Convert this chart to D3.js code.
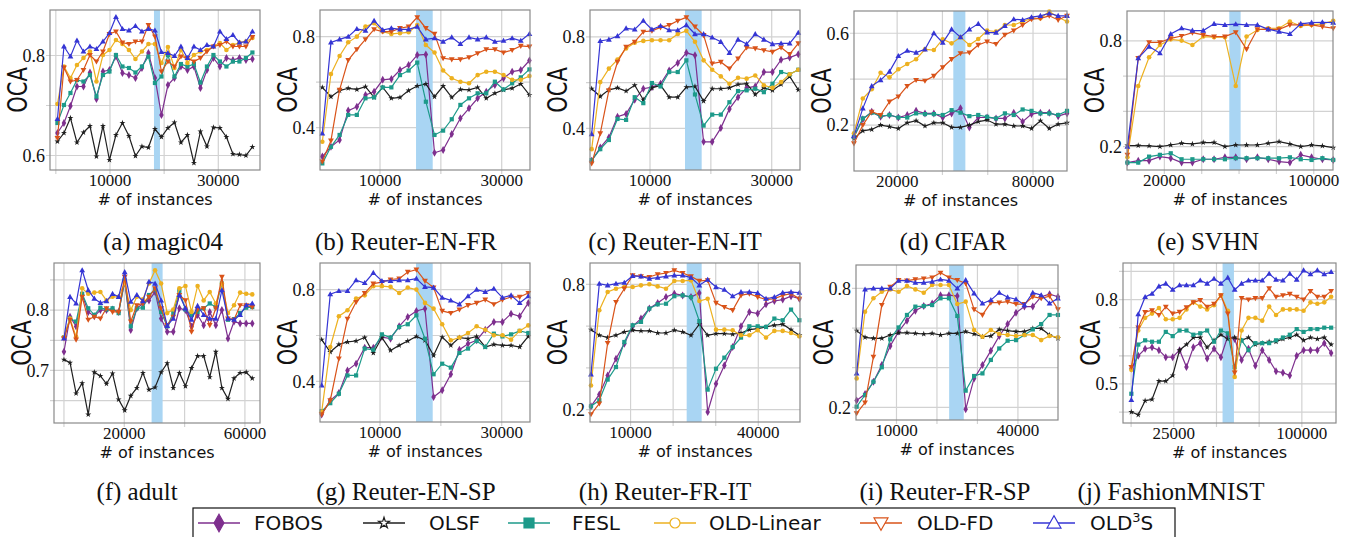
<!DOCTYPE html>
<html>
<head>
<meta charset="utf-8">
<script src="https://cdn.jsdelivr.net/npm/d3@7"></script>
<style>
  body { margin: 0; background: #fff; }
  svg { display: block; }
</style>
</head>
<body>
<div id="chart"></div>
<script>
// series order in every dataset: FOBOS, OLSF, FESL, OLD-Linear, OLD-FD, OLD3S
var methods = ['FOBOS', 'OLSF', 'FESL', 'OLD-Linear', 'OLD-FD', 'OLD3S'];

var magic04 = [
  [0.645,0.665,0.699,0.738,0.738,0.766,0.713,0.768,0.771,0.798,0.765,0.761,0.755,0.775,0.805,0.755,0.681,0.741,0.755,0.778,0.771,0.778,0.735,0.771,0.795,0.778,0.795,0.791,0.795,0.791,0.793],
  [0.628,0.645,0.675,0.626,0.646,0.659,0.598,0.659,0.591,0.641,0.665,0.639,0.599,0.618,0.616,0.653,0.637,0.655,0.666,0.626,0.641,0.585,0.648,0.618,0.656,0.655,0.637,0.603,0.602,0.600,0.617],
  [0.665,0.701,0.725,0.751,0.748,0.761,0.718,0.761,0.768,0.801,0.778,0.775,0.766,0.778,0.798,0.745,0.758,0.801,0.758,0.783,0.778,0.783,0.746,0.778,0.801,0.788,0.778,0.788,0.788,0.795,0.806],
  [0.703,0.778,0.755,0.781,0.795,0.808,0.748,0.801,0.811,0.831,0.823,0.811,0.793,0.808,0.823,0.823,0.785,0.817,0.775,0.811,0.785,0.801,0.808,0.811,0.818,0.825,0.811,0.821,0.826,0.828,0.835],
  [0.635,0.776,0.748,0.751,0.771,0.801,0.788,0.808,0.843,0.848,0.826,0.823,0.828,0.828,0.861,0.838,0.768,0.788,0.778,0.798,0.795,0.788,0.795,0.808,0.818,0.821,0.828,0.818,0.818,0.818,0.837],
  [0.673,0.818,0.798,0.830,0.808,0.818,0.813,0.828,0.845,0.877,0.853,0.850,0.859,0.848,0.853,0.850,0.807,0.805,0.799,0.818,0.795,0.818,0.811,0.821,0.818,0.848,0.833,0.841,0.826,0.828,0.848]
];

var reuterENFR = [
  [0.273,0.316,0.346,0.475,0.492,0.544,0.558,0.610,0.614,0.653,0.675,0.719,0.722,0.290,0.302,0.372,0.441,0.485,0.529,0.558,0.588,0.617,0.646,0.653,0.695],
  [0.577,0.536,0.563,0.573,0.568,0.580,0.533,0.577,0.529,0.533,0.563,0.583,0.592,0.536,0.583,0.533,0.568,0.566,0.577,0.529,0.551,0.566,0.573,0.592,0.544],
  [0.243,0.316,0.368,0.456,0.456,0.529,0.533,0.577,0.577,0.631,0.651,0.686,0.514,0.368,0.387,0.437,0.500,0.529,0.551,0.551,0.602,0.568,0.595,0.621,0.656],
  [0.338,0.636,0.715,0.775,0.800,0.844,0.859,0.822,0.812,0.815,0.819,0.851,0.763,0.730,0.651,0.617,0.602,0.595,0.631,0.646,0.646,0.631,0.610,0.610,0.627],
  [0.251,0.343,0.566,0.697,0.744,0.788,0.832,0.822,0.822,0.837,0.844,0.885,0.837,0.812,0.705,0.700,0.700,0.709,0.727,0.744,0.744,0.730,0.741,0.759,0.756],
  [0.375,0.775,0.788,0.800,0.834,0.826,0.870,0.829,0.837,0.832,0.832,0.844,0.788,0.793,0.778,0.797,0.768,0.797,0.788,0.797,0.778,0.782,0.793,0.782,0.812]
];

var reuterENIT = [
  [0.258,0.316,0.360,0.451,0.463,0.525,0.573,0.580,0.595,0.653,0.686,0.730,0.719,0.341,0.341,0.401,0.485,0.536,0.577,0.583,0.646,0.646,0.700,0.709,0.724],
  [0.573,0.539,0.568,0.577,0.563,0.588,0.525,0.577,0.588,0.536,0.536,0.580,0.583,0.519,0.573,0.573,0.577,0.592,0.595,0.548,0.577,0.566,0.592,0.627,0.568],
  [0.261,0.309,0.349,0.441,0.437,0.536,0.510,0.598,0.583,0.646,0.646,0.697,0.548,0.412,0.460,0.460,0.514,0.563,0.566,0.573,0.558,0.595,0.646,0.636,0.656],
  [0.309,0.602,0.661,0.700,0.749,0.774,0.782,0.785,0.785,0.785,0.812,0.826,0.778,0.697,0.656,0.627,0.595,0.621,0.617,0.631,0.588,0.577,0.602,0.636,0.656],
  [0.246,0.378,0.566,0.690,0.756,0.778,0.822,0.826,0.841,0.851,0.870,0.885,0.844,0.807,0.683,0.690,0.661,0.705,0.753,0.749,0.741,0.734,0.753,0.724,0.771],
  [0.375,0.782,0.788,0.803,0.837,0.832,0.870,0.832,0.847,0.829,0.829,0.851,0.812,0.812,0.797,0.778,0.730,0.788,0.768,0.812,0.788,0.768,0.771,0.771,0.818]
];

var cifar = [
  [0.149,0.225,0.258,0.236,0.244,0.233,0.244,0.262,0.251,0.251,0.233,0.251,0.273,0.190,0.233,0.233,0.229,0.229,0.254,0.215,0.248,0.254,0.254,0.239,0.251],
  [0.142,0.175,0.181,0.200,0.193,0.185,0.210,0.219,0.196,0.210,0.210,0.190,0.190,0.200,0.215,0.222,0.204,0.204,0.196,0.196,0.185,0.219,0.185,0.204,0.210],
  [0.149,0.229,0.254,0.239,0.244,0.233,0.233,0.251,0.248,0.248,0.244,0.265,0.254,0.239,0.244,0.236,0.229,0.251,0.244,0.268,0.262,0.251,0.251,0.244,0.262],
  [0.164,0.316,0.356,0.428,0.408,0.443,0.466,0.487,0.530,0.527,0.574,0.556,0.583,0.549,0.575,0.612,0.607,0.636,0.636,0.651,0.665,0.665,0.695,0.670,0.651],
  [0.120,0.200,0.258,0.244,0.302,0.324,0.370,0.396,0.393,0.414,0.452,0.487,0.513,0.516,0.549,0.564,0.553,0.593,0.612,0.636,0.661,0.665,0.676,0.658,0.676],
  [0.152,0.273,0.370,0.396,0.433,0.501,0.524,0.516,0.530,0.600,0.559,0.617,0.583,0.617,0.641,0.604,0.603,0.632,0.661,0.658,0.670,0.676,0.687,0.676,0.676]
];

var svhn = [
  [0.109,0.120,0.120,0.143,0.134,0.109,0.109,0.128,0.128,0.139,0.139,0.128,0.139,0.128,0.115,0.109,0.153,0.139,0.128,0.124],
  [0.206,0.206,0.204,0.200,0.209,0.219,0.215,0.223,0.223,0.200,0.209,0.209,0.209,0.219,0.228,0.215,0.200,0.209,0.204,0.194],
  [0.109,0.109,0.143,0.153,0.162,0.128,0.128,0.128,0.128,0.128,0.134,0.134,0.134,0.134,0.134,0.139,0.128,0.124,0.134,0.124],
  [0.139,0.544,0.707,0.777,0.809,0.802,0.777,0.825,0.821,0.821,0.544,0.825,0.862,0.872,0.872,0.910,0.885,0.891,0.897,0.914],
  [0.153,0.702,0.792,0.792,0.815,0.828,0.847,0.834,0.825,0.825,0.849,0.753,0.866,0.866,0.866,0.891,0.891,0.891,0.881,0.872],
  [0.200,0.702,0.768,0.730,0.840,0.872,0.859,0.859,0.897,0.891,0.895,0.891,0.891,0.866,0.853,0.840,0.897,0.904,0.906,0.904]
];

var adult = [
  [0.731,0.789,0.773,0.825,0.797,0.790,0.800,0.800,0.801,0.797,0.847,0.767,0.803,0.811,0.816,0.830,0.786,0.764,0.764,0.803,0.800,0.773,0.792,0.775,0.797,0.775,0.800,0.753,0.781,0.778,0.778,0.778],
  [0.718,0.713,0.662,0.679,0.627,0.697,0.691,0.678,0.695,0.652,0.634,0.658,0.671,0.696,0.668,0.672,0.697,0.712,0.671,0.696,0.674,0.704,0.724,0.724,0.689,0.731,0.671,0.653,0.687,0.696,0.697,0.687],
  [0.755,0.786,0.781,0.827,0.803,0.792,0.804,0.801,0.803,0.795,0.849,0.773,0.803,0.804,0.825,0.834,0.797,0.773,0.795,0.832,0.801,0.792,0.797,0.803,0.811,0.805,0.844,0.784,0.785,0.795,0.804,0.805],
  [0.755,0.786,0.756,0.836,0.827,0.829,0.830,0.816,0.822,0.822,0.845,0.800,0.822,0.818,0.844,0.866,0.844,0.795,0.801,0.836,0.840,0.797,0.840,0.816,0.830,0.811,0.844,0.795,0.808,0.829,0.827,0.826],
  [0.753,0.784,0.751,0.822,0.784,0.789,0.786,0.803,0.797,0.797,0.855,0.781,0.808,0.811,0.822,0.836,0.803,0.775,0.789,0.825,0.816,0.764,0.801,0.803,0.775,0.803,0.855,0.786,0.784,0.808,0.808,0.805],
  [0.753,0.822,0.811,0.866,0.833,0.819,0.812,0.815,0.827,0.822,0.863,0.814,0.825,0.815,0.847,0.844,0.816,0.774,0.786,0.825,0.803,0.784,0.807,0.792,0.786,0.786,0.833,0.786,0.784,0.792,0.808,0.811]
];

var reuterENSP = [
  [0.256,0.317,0.349,0.448,0.477,0.547,0.547,0.593,0.586,0.640,0.681,0.707,0.717,0.332,0.361,0.431,0.538,0.564,0.579,0.625,0.659,0.659,0.695,0.684,0.742],
  [0.582,0.528,0.561,0.572,0.576,0.591,0.524,0.591,0.535,0.557,0.576,0.596,0.579,0.513,0.593,0.557,0.591,0.586,0.596,0.550,0.561,0.557,0.557,0.550,0.596],
  [0.270,0.305,0.346,0.426,0.426,0.543,0.538,0.605,0.591,0.637,0.649,0.688,0.586,0.431,0.477,0.460,0.524,0.543,0.576,0.550,0.608,0.596,0.605,0.620,0.611],
  [0.266,0.550,0.684,0.710,0.761,0.775,0.815,0.815,0.812,0.785,0.809,0.800,0.742,0.717,0.649,0.579,0.591,0.611,0.640,0.625,0.601,0.601,0.582,0.620,0.644],
  [0.256,0.317,0.499,0.673,0.746,0.785,0.826,0.833,0.844,0.848,0.877,0.887,0.838,0.809,0.707,0.698,0.713,0.732,0.742,0.756,0.736,0.756,0.768,0.768,0.785],
  [0.383,0.780,0.794,0.794,0.841,0.829,0.873,0.838,0.838,0.841,0.841,0.848,0.812,0.809,0.765,0.753,0.736,0.771,0.800,0.790,0.804,0.765,0.775,0.742,0.771]
];

var reuterFRIT = [
  [0.216,0.273,0.364,0.444,0.516,0.599,0.636,0.684,0.711,0.739,0.755,0.747,0.739,0.759,0.189,0.324,0.412,0.500,0.599,0.668,0.660,0.704,0.720,0.727,0.743,0.731],
  [0.583,0.556,0.545,0.556,0.572,0.580,0.577,0.577,0.567,0.567,0.580,0.572,0.556,0.609,0.556,0.564,0.564,0.561,0.567,0.583,0.588,0.596,0.604,0.609,0.583,0.556],
  [0.216,0.245,0.344,0.404,0.524,0.604,0.620,0.684,0.704,0.707,0.743,0.747,0.739,0.624,0.296,0.396,0.449,0.500,0.545,0.599,0.599,0.596,0.636,0.628,0.679,0.628],
  [0.316,0.676,0.763,0.779,0.787,0.787,0.795,0.800,0.790,0.779,0.816,0.816,0.819,0.720,0.731,0.583,0.583,0.580,0.556,0.556,0.580,0.545,0.577,0.577,0.567,0.551],
  [0.178,0.229,0.519,0.715,0.779,0.843,0.838,0.835,0.848,0.854,0.867,0.854,0.838,0.816,0.819,0.711,0.691,0.676,0.747,0.755,0.739,0.727,0.731,0.747,0.755,0.731],
  [0.369,0.803,0.795,0.803,0.808,0.840,0.838,0.827,0.832,0.838,0.843,0.843,0.832,0.795,0.822,0.787,0.774,0.743,0.763,0.763,0.759,0.731,0.739,0.760,0.763,0.760]
];

var reuterFRSP = [
  [0.234,0.267,0.329,0.413,0.509,0.582,0.637,0.687,0.711,0.724,0.766,0.766,0.761,0.190,0.346,0.413,0.486,0.560,0.620,0.677,0.708,0.708,0.758,0.771,0.758],
  [0.587,0.553,0.548,0.548,0.565,0.576,0.576,0.573,0.570,0.573,0.565,0.573,0.573,0.582,0.570,0.556,0.560,0.593,0.587,0.582,0.582,0.598,0.598,0.565,0.548],
  [0.203,0.262,0.329,0.402,0.543,0.603,0.666,0.708,0.711,0.716,0.750,0.750,0.661,0.284,0.358,0.371,0.439,0.497,0.536,0.539,0.565,0.593,0.620,0.666,0.666],
  [0.346,0.682,0.750,0.783,0.795,0.783,0.812,0.795,0.778,0.817,0.817,0.817,0.721,0.733,0.590,0.556,0.590,0.570,0.565,0.560,0.565,0.565,0.539,0.560,0.553],
  [0.170,0.224,0.455,0.716,0.808,0.842,0.839,0.845,0.850,0.855,0.879,0.855,0.842,0.825,0.694,0.666,0.728,0.728,0.733,0.721,0.721,0.758,0.750,0.761,0.694],
  [0.371,0.795,0.800,0.800,0.800,0.839,0.839,0.829,0.829,0.834,0.845,0.839,0.800,0.842,0.775,0.724,0.741,0.778,0.755,0.745,0.716,0.778,0.766,0.724,0.750]
];

var fashionMNIST = [
  [0.555,0.600,0.625,0.630,0.620,0.595,0.595,0.620,0.560,0.630,0.645,0.590,0.625,0.595,0.670,0.660,0.585,0.625,0.565,0.620,0.585,0.545,0.540,0.530,0.600,0.620,0.620,0.620,0.645,0.610],
  [0.400,0.390,0.440,0.445,0.510,0.510,0.530,0.620,0.640,0.665,0.665,0.630,0.655,0.675,0.660,0.665,0.655,0.665,0.640,0.645,0.650,0.650,0.660,0.665,0.675,0.655,0.665,0.660,0.665,0.640],
  [0.465,0.640,0.655,0.650,0.650,0.685,0.670,0.690,0.690,0.675,0.680,0.690,0.650,0.690,0.680,0.560,0.655,0.620,0.645,0.645,0.645,0.655,0.665,0.675,0.695,0.685,0.695,0.695,0.700,0.700],
  [0.550,0.690,0.735,0.750,0.770,0.730,0.730,0.735,0.765,0.790,0.775,0.765,0.780,0.815,0.760,0.525,0.690,0.735,0.735,0.725,0.775,0.745,0.765,0.765,0.765,0.760,0.790,0.785,0.790,0.810],
  [0.560,0.700,0.755,0.762,0.745,0.774,0.750,0.756,0.772,0.790,0.798,0.774,0.785,0.815,0.750,0.540,0.805,0.800,0.805,0.805,0.840,0.810,0.815,0.820,0.810,0.800,0.830,0.810,0.810,0.830],
  [0.443,0.748,0.809,0.821,0.847,0.857,0.835,0.851,0.851,0.851,0.868,0.857,0.874,0.857,0.878,0.835,0.857,0.868,0.868,0.868,0.892,0.871,0.868,0.892,0.871,0.904,0.890,0.904,0.890,0.898]
];

var datasets = [magic04, reuterENFR, reuterENIT, cifar, svhn, adult, reuterENSP, reuterFRIT, reuterFRSP, fashionMNIST];
var captions = ['(a) magic04', '(b) Reuter-EN-FR', '(c) Reuter-EN-IT', '(d) CIFAR', '(e) SVHN',
                '(f) adult', '(g) Reuter-EN-SP', '(h) Reuter-FR-IT', '(i) Reuter-FR-SP', '(j) FashionMNIST'];
// first instance count and spacing of the evaluation points
var firstInstance = [300, 520, 410, 930, 220, 0, 410, 700, 160, 140];
var instanceStep  = [1200, 1418, 1415, 3920, 5800, 2014, 1415, 1958, 2072, 4035];
// feature-space shift window (shaded)
var shiftWindow = [[18120,19230],[15920,18660],[15750,18490],[44800,50120],[54770,60830],
                   [29060,32710],[15920,18660],[23180,26700],[23010,26620],[53560,60220]];
var xTickLabels = [[10000,30000],[10000,30000],[10000,30000],[20000,80000],[20000,100000],
                   [20000,60000],[10000,30000],[10000,40000],[10000,40000],[25000,100000]];
var yTickLabels = [[0.6,0.8],[0.4,0.8],[0.4,0.8],[0.2,0.6],[0.2,0.8],
                   [0.7,0.8],[0.4,0.8],[0.2,0.8],[0.2,0.8],[0.5,0.8]];

var COLORS  = ['#7E2F8E', '#1f1f1f', '#1d9a8a', '#EDB120', '#D95319', '#3535d4'];
var MARKERS = ['diamond', 'star', 'square', 'circle', 'down', 'up'];

// panel frames and axis ranges
var panels = [
  { l: 50,   t: 10,  r: 260,  b: 170, xd: [-1077, 37700],  yd: [0.571, 0.891], xg: [0,10000,20000,30000],        yg: [0.6,0.7,0.8] },
  { l: 320,  t: 10,  r: 530,  b: 170, xd: [137, 34650],    yd: [0.214, 0.917], xg: [10000,20000,30000],          yg: [0.4,0.6,0.8] },
  { l: 590,  t: 10,  r: 800,  b: 170, xd: [137, 34650],    yd: [0.218, 0.917], xg: [10000,20000,30000],          yg: [0.4,0.6,0.8] },
  { l: 854,  t: 11,  r: 1067, b: 171, xd: [950, 95000],    yd: [0.0, 0.697],   xg: [20000,40000,60000,80000],    yg: [0.2,0.4,0.6] },
  { l: 1127, t: 11,  r: 1333, b: 170, xd: [0, 110300],     yd: [0.067, 0.970], xg: [20000,40000,60000,80000,100000], yg: [0.2,0.4,0.6,0.8] },
  { l: 54,   t: 263, r: 260,  b: 423, xd: [-3300, 65000],  yd: [0.613, 0.878], xg: [0,20000,40000,60000],        yg: [0.65,0.7,0.75,0.8,0.85] },
  { l: 320,  t: 263, r: 530,  b: 422, xd: [137, 34650],    yd: [0.223, 0.916], xg: [10000,20000,30000],          yg: [0.4,0.6,0.8] },
  { l: 590,  t: 263, r: 800,  b: 422, xd: [470, 49800],    yd: [0.141, 0.902], xg: [10000,20000,30000,40000],    yg: [0.2,0.4,0.6,0.8] },
  { l: 856,  t: 265, r: 1058, b: 420, xd: [0, 49900],      yd: [0.136, 0.918], xg: [10000,20000,30000,40000],    yg: [0.2,0.4,0.6,0.8] },
  { l: 1123, t: 263, r: 1336, b: 423, xd: [-4750, 120000], yd: [0.361, 0.930], xg: [0,25000,50000,75000,100000], yg: [0.4,0.5,0.6,0.7,0.8,0.9] }
];
var captionX = [163, 406, 675, 953, 1208, 137, 406, 665, 945, 1171];

var W = 1348, H = 537;

function markerPath(type, s) {
  var h = s / 2;
  switch (type) {
    case 'diamond': return 'M0,' + (-s * 0.8) + 'L' + (s * 0.45) + ',0L0,' + (s * 0.8) + 'L' + (-s * 0.45) + ',0Z';
    case 'square':  return 'M' + (-h) + ',' + (-h) + 'h' + s + 'v' + s + 'h' + (-s) + 'Z';
    case 'circle':  return d3.symbol(d3.symbolCircle, Math.PI * h * h)();
    case 'star':    return d3.symbol(d3.symbolStar, s * s * 0.45)();
    case 'down':    return 'M' + (-s * 0.58) + ',' + (-s * 0.42) + 'L' + (s * 0.58) + ',' + (-s * 0.42) + 'L0,' + (s * 0.6) + 'Z';
    case 'up':      return 'M' + (-s * 0.58) + ',' + (s * 0.42) + 'L' + (s * 0.58) + ',' + (s * 0.42) + 'L0,' + (-s * 0.6) + 'Z';
  }
}

var svg = d3.select('#chart').append('svg')
  .attr('width', W).attr('height', H)
  .attr('viewBox', '0 0 ' + W + ' ' + H)
  .style('background', '#fff');

panels.forEach(function (p, k) {
  var x = d3.scaleLinear().domain(p.xd).range([p.l, p.r]);
  var y = d3.scaleLinear().domain(p.yd).range([p.b, p.t]);
  var g = svg.append('g');

  // grid + small ticks
  p.xg.forEach(function (v) {
    g.append('line').attr('x1', x(v)).attr('x2', x(v)).attr('y1', p.t).attr('y2', p.b + 4)
      .attr('stroke', '#d2d2d2').attr('stroke-width', 1.2);
  });
  p.yg.forEach(function (v) {
    g.append('line').attr('x1', p.l - 4).attr('x2', p.r).attr('y1', y(v)).attr('y2', y(v))
      .attr('stroke', '#d2d2d2').attr('stroke-width', 1.2);
  });

  // shift window
  var sw = shiftWindow[k];
  g.append('rect').attr('x', x(sw[0])).attr('y', p.t)
    .attr('width', x(sw[1]) - x(sw[0])).attr('height', p.b - p.t)
    .attr('fill', '#a9d5f3');

  // series
  var xs = d3.range(datasets[k][0].length).map(function (i) { return firstInstance[k] + i * instanceStep[k]; });
  var line = d3.line().x(function (d, i) { return x(xs[i]); }).y(function (d) { return y(d); });
  datasets[k].forEach(function (vals, s) {
    g.append('path').datum(vals).attr('d', line)
      .attr('fill', 'none').attr('stroke', COLORS[s]).attr('stroke-width', 1.2);
    var mSize = { diamond: 5, star: 5, square: 4.2, circle: 4.6, down: 5, up: 5 }[MARKERS[s]];
    g.append('g').selectAll('path').data(vals).join('path')
      .attr('transform', function (d, i) { return 'translate(' + x(xs[i]) + ',' + y(d) + ')'; })
      .attr('d', markerPath(MARKERS[s], mSize))
      .attr('fill', COLORS[s]);
  });

  // frame
  g.append('rect').attr('x', p.l).attr('y', p.t).attr('width', p.r - p.l).attr('height', p.b - p.t)
    .attr('fill', 'none').attr('stroke', '#8a8a8a').attr('stroke-width', 1.2);

  // tick labels
  xTickLabels[k].forEach(function (v) {
    g.append('text').attr('x', x(v)).attr('y', p.b + 16)
      .attr('text-anchor', 'middle').attr('font-family', 'Liberation Serif, serif')
      .attr('font-size', 17).attr('fill', '#111').text(v);
  });
  yTickLabels[k].forEach(function (v) {
    g.append('text').attr('x', p.l - 5).attr('y', y(v)).attr('dy', '0.35em')
      .attr('text-anchor', 'end').attr('font-family', 'Liberation Serif, serif')
      .attr('font-size', 18).attr('fill', '#111').text(d3.format('.1f')(v));
  });

  // axis titles
  g.append('text').attr('x', (p.l + p.r) / 2).attr('y', p.b + 35)
    .attr('text-anchor', 'middle').attr('font-family', 'DejaVu Sans, sans-serif')
    .attr('font-size', 16).attr('fill', '#111').text('# of instances');
  g.append('text')
    .attr('transform', 'translate(' + (p.l - 23) + ',' + ((p.t + p.b) / 2) + ') scale(1.25,1) rotate(-90)')
    .attr('text-anchor', 'middle').attr('font-family', 'DejaVu Sans, sans-serif')
    .attr('font-size', 21).attr('fill', '#111').text('OCA');

  // caption
  svg.append('text').attr('x', captionX[k]).attr('y', k < 5 ? 250 : 500)
    .attr('text-anchor', 'middle').attr('font-family', 'Liberation Serif, serif')
    .attr('font-size', 25).attr('fill', '#111').text(captions[k]);
});

// legend
var legendLineX = [198, 363, 508, 654, 860, 1033];
var legendTextX = [254, 429, 572, 709, 917, 1090];
var lg = svg.append('g');
lg.append('rect').attr('x', 193).attr('y', 508).attr('width', 982).attr('height', 40)
  .attr('fill', '#fff').attr('stroke', '#111').attr('stroke-width', 1.2);
methods.forEach(function (m, i) {
  var lx = legendLineX[i], ly = 523;
  lg.append('line').attr('x1', lx).attr('x2', lx + 42).attr('y1', ly).attr('y2', ly)
    .attr('stroke', COLORS[i]).attr('stroke-width', 1.5);
  var filled = MARKERS[i] === 'diamond' || MARKERS[i] === 'square';
  var size = { diamond: 11, star: 9, square: 10, circle: 10, down: 12, up: 12 }[MARKERS[i]];
  lg.append('path').attr('transform', 'translate(' + (lx + 21) + ',' + ly + ')')
    .attr('d', markerPath(MARKERS[i], size))
    .attr('fill', filled ? COLORS[i] : '#fff')
    .attr('stroke', COLORS[i]).attr('stroke-width', 1.2);
  var t = lg.append('text').attr('x', legendTextX[i]).attr('y', ly + 7)
    .attr('font-family', 'DejaVu Sans, sans-serif').attr('font-size', 20).attr('fill', '#111');
  if (m === 'OLD3S') {
    t.append('tspan').text('OLD');
    t.append('tspan').attr('font-size', 13).attr('dy', -8).text('3');
    t.append('tspan').attr('dy', 8).text('S');
  } else {
    t.text(m);
  }
});
</script>
</body>
</html>
